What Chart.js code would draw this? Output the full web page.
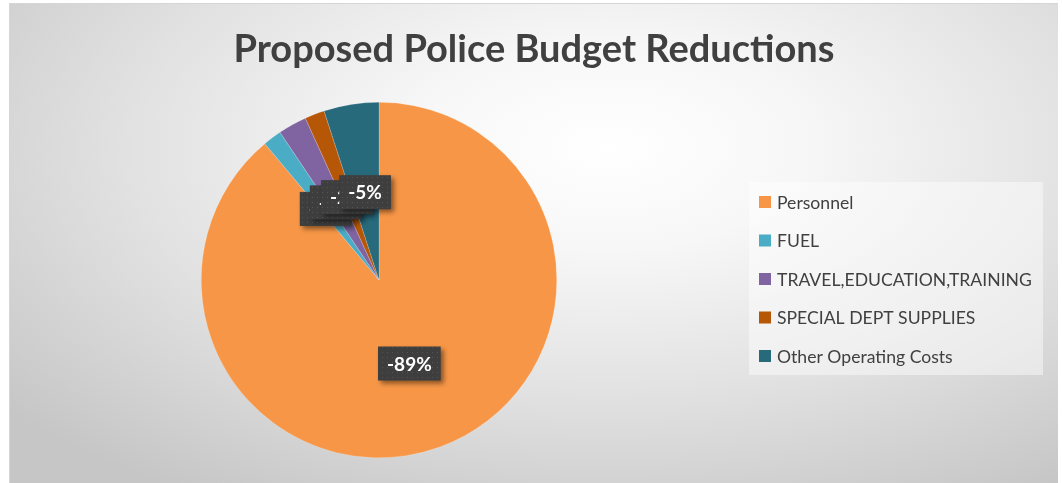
<!DOCTYPE html>
<html>
<head>
<meta charset="utf-8">
<script src="https://cdn.jsdelivr.net/npm/chart.js@4.4.1/dist/chart.umd.min.js"></script>
<style>
  html, body { margin: 0; padding: 0; background: #fff; }
  #frame {
    position: absolute; left: 9px; top: 3px; width: 1049px; height: 480px;
    background: radial-gradient(ellipse 75% 85% at 57% 30%, #ffffff 0%, #f7f7f7 25%, #e2e2e2 60%, #c6c6c6 100%);
    box-shadow: inset 1px 1px 0 #d6d6d6;
  }
  #chart { position: absolute; left: 0; top: 0; }
</style>
</head>
<body>
<div id="frame"></div>
<canvas id="chart" width="1062" height="483"></canvas>
<script>
const TITLE = 'Proposed Police Budget Reductions';
const categories = ['Personnel', 'FUEL', 'TRAVEL,EDUCATION,TRAINING', 'SPECIAL DEPT SUPPLIES', 'Other Operating Costs'];
const shares = [88.9, 1.7, 2.6, 1.8, 5.0];
const COLORS = ['#f79646', '#4bacc6', '#8064a2', '#b65708', '#276a7c'];

const FONT = 'Lato, "Open Sans", sans-serif';

// dotted texture for the label boxes
function makePattern(ctx) {
  const c = document.createElement('canvas');
  c.width = 5; c.height = 5;
  const p = c.getContext('2d');
  p.fillStyle = '#3e3e3e';
  p.fillRect(0, 0, 5, 5);
  p.fillStyle = '#545454';
  p.fillRect(2, 2, 1, 1);
  return ctx.createPattern(c, 'repeat');
}

const titlePlugin = {
  id: 'titleText',
  beforeDraw(chart) {
    const ctx = chart.ctx;
    ctx.save();
    ctx.font = 'bold 38px ' + FONT;
    ctx.fillStyle = '#404040';
    ctx.textAlign = 'center';
    ctx.textBaseline = 'alphabetic';
    ctx.fillText(TITLE, 534, 62);
    ctx.restore();
  }
};

const labelPlugin = {
  id: 'sliceLabels',
  afterDatasetsDraw(chart) {
    const ctx = chart.ctx;
    const meta = chart.getDatasetMeta(0);
    const pattern = makePattern(ctx);
    ctx.save();
    ctx.font = 'bold 19px ' + FONT;
    ctx.textAlign = 'center';
    ctx.textBaseline = 'middle';
    meta.data.forEach((arc, i) => {
      const mid = (arc.startAngle + arc.endAngle) / 2;
      const r = arc.outerRadius * 0.5;
      const x = arc.x + Math.cos(mid) * r;
      const y = arc.y + Math.sin(mid) * r;
      const text = '-' + Math.round(shares[i]) + '%';
      const w = ctx.measureText(text).width + 18;
      const h = 34;
      ctx.save();
      ctx.shadowColor = 'rgba(0,0,0,0.45)';
      ctx.shadowBlur = 5;
      ctx.shadowOffsetX = 3;
      ctx.shadowOffsetY = 3;
      ctx.fillStyle = pattern;
      ctx.fillRect(x - w / 2, y - h / 2, w, h);
      ctx.restore();
      ctx.fillStyle = '#ffffff';
      ctx.fillText(text, x, y + 1);
    });
    ctx.restore();
  }
};

const legendPlugin = {
  id: 'sideLegend',
  afterDraw(chart) {
    const ctx = chart.ctx;
    ctx.save();
    ctx.fillStyle = 'rgba(255,255,255,0.45)';
    ctx.fillRect(749, 182, 294, 193);
    ctx.font = '17.6px ' + FONT;
    ctx.textBaseline = 'middle';
    ctx.textAlign = 'left';
    categories.forEach((c, i) => {
      const y = 202 + i * 38.5;
      ctx.fillStyle = COLORS[i];
      ctx.fillRect(759, y - 6, 12, 12);
      ctx.fillStyle = '#404040';
      ctx.fillText(c, 777, y + 1);
    });
    ctx.restore();
  }
};

new Chart(document.getElementById('chart'), {
  type: 'pie',
  data: {
    labels: categories,
    datasets: [{
      data: shares,
      backgroundColor: COLORS,
      borderColor: 'rgba(255,255,255,0.35)',
      borderWidth: 0.5,
    }]
  },
  options: {
    responsive: false,
    animation: false,
    layout: { padding: { left: 201, right: 505, top: 102, bottom: 25 } },
    plugins: {
      legend: { display: false },
      tooltip: { enabled: false },
      title: { display: false },
    }
  },
  plugins: [titlePlugin, labelPlugin, legendPlugin]
});
</script>
</body>
</html>
